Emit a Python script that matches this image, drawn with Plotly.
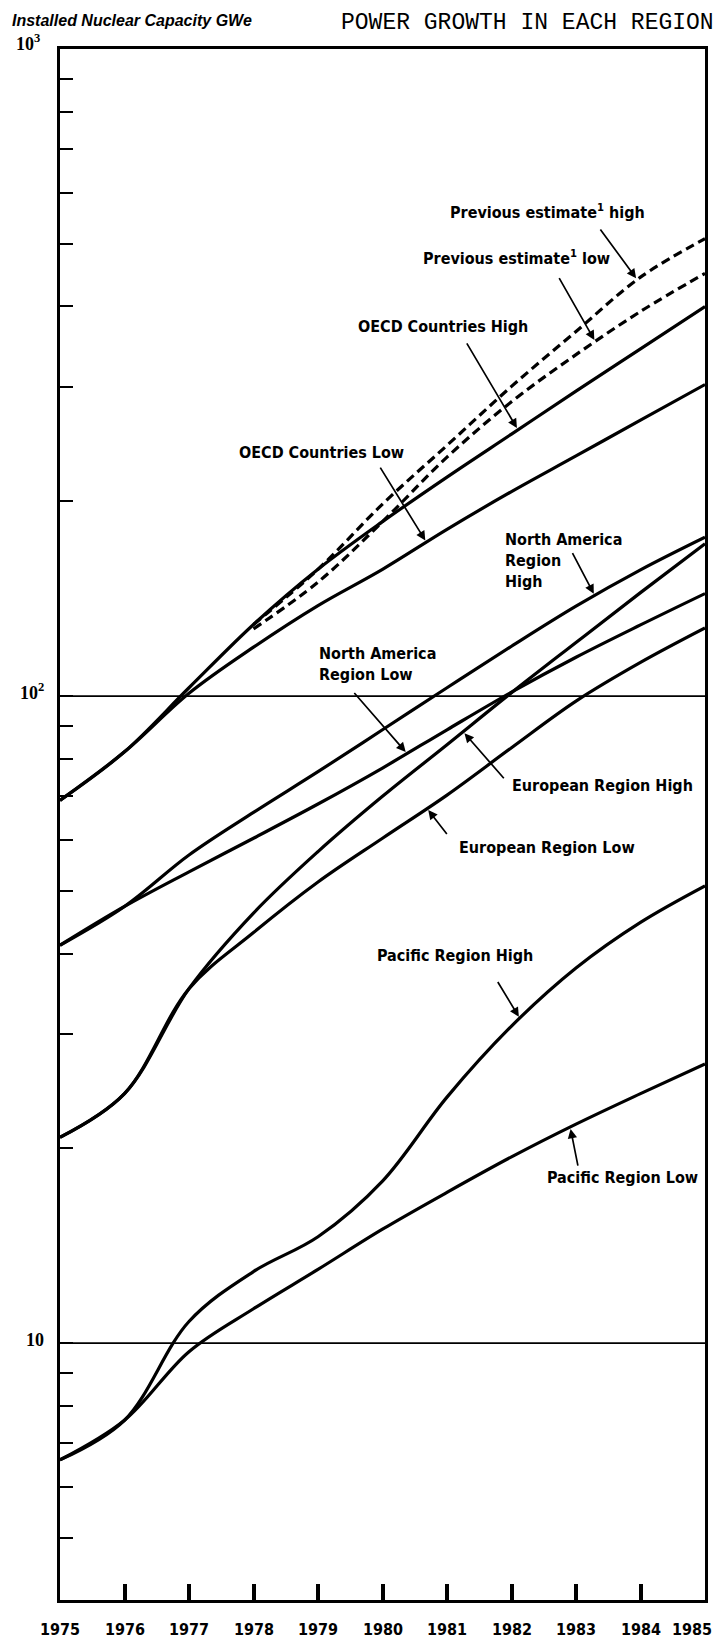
import numpy as np
import plotly.graph_objects as go

# Installed nuclear capacity (GWe), read at each year 1975-1985
years = list(range(1975, 1986))
prev_years = list(range(1978, 1986))
year_labels = [str(y) for y in years]

oecd_high = [69, 82, 103, 129, 157, 186, 218, 254, 296, 344, 400]
oecd_low = [69, 82, 101, 119, 138, 157, 181, 207, 235, 267, 303]
prev_high = [129, 157, 198, 244, 301, 366, 444, 509]
prev_low = [127, 150, 186, 234, 285, 337, 393, 450]
na_high = [41.2, 47.3, 56.8, 66.1, 76.4, 88.7, 103.0, 119.4, 137.7, 156.7, 176]
na_low = [41.2, 47.3, 53.5, 60.3, 68.1, 77.4, 88.7, 101.4, 114.8, 128.8, 144]
eu_high = [20.8, 24.3, 35.3, 46.2, 57.5, 70.0, 84.1, 101.2, 121, 144.5, 172]
eu_low = [20.8, 24.3, 35.3, 43.1, 51.6, 60.3, 70.3, 83.2, 98.2, 112.7, 127.4]
pac_high = [6.6, 7.6, 10.8, 12.9, 14.6, 17.8, 24.0, 30.9, 38.0, 44.7, 50.9]
pac_low = [6.6, 7.6, 9.7, 11.3, 13.0, 15.0, 17.1, 19.4, 21.8, 24.3, 27.0]

guide_values = [10, 100]
minor_ticks = [4, 5, 6, 7, 8, 9, 10, 20, 30, 40, 50, 60, 70, 80, 90,
               100, 200, 300, 400, 500, 600, 700, 800, 900]

W, H = 715, 1649
L, T, PW, PH = 60, 49, 645, 1551

NARROW = "Liberation Sans Narrow, DejaVu Sans Condensed, sans-serif"

fig = go.Figure()

# reference lines at 10 and 100 GWe
for g in guide_values:
    fig.add_trace(go.Scatter(x=[years[0], years[-1]], y=[g, g], mode="lines",
                             line=dict(color="black", width=1.8),
                             hoverinfo="skip", showlegend=False))

series = [
    (years, oecd_high, "solid"), (years, oecd_low, "solid"),
    (prev_years, prev_high, "9px,5px"), (prev_years, prev_low, "9px,5px"),
    (years, na_high, "solid"), (years, na_low, "solid"),
    (years, eu_high, "solid"), (years, eu_low, "solid"),
    (years, pac_high, "solid"), (years, pac_low, "solid"),
]
for xs, ys, dash in series:
    fig.add_trace(go.Scatter(x=xs, y=ys, mode="lines",
                             line=dict(color="black", width=3.2, dash=dash,
                                       shape="spline", smoothing=1.0),
                             hoverinfo="skip", showlegend=False))


def paper(x, y):
    return (x - L) / PW, 1 - (y - T) / PH


def on_curve(xs, ys, yr):
    return float(np.interp(yr, xs, np.log10(ys)))


annotations = []

# curve labels: (text, pixel x, pixel y, anchor)
labels = [
    ("Previous estimate<sup>1</sup> high", 547, 211, "center"),
    ("Previous estimate<sup>1</sup> low", 516, 258, "center"),
    ("OECD Countries High", 443, 327, "center"),
    ("OECD Countries Low", 321, 452, "center"),
    ("North America<br>Region<br>High", 503, 560, "left"),
    ("North America<br>Region Low", 317, 664, "left"),
    ("European Region High", 510, 785, "left"),
    ("European Region Low", 457, 847, "left"),
    ("Pacific Region High", 455, 955, "center"),
    ("Pacific Region Low", 622, 1177, "center"),
]
for text, px, py, anchor in labels:
    xp, yp = paper(px, py)
    annotations.append(dict(text=text, x=xp, y=yp, xref="paper", yref="paper",
                            xanchor=anchor, yanchor="middle", align="left",
                            showarrow=False,
                            font=dict(family=NARROW, size=16, color="black",
                                      weight="bold")))

# pointer arrows: (series x, series y, year of tip, tail offset px)
pointers = [
    (prev_years, prev_high, 1983.95, -38, -52),
    (prev_years, prev_low, 1983.3, -37, -65),
    (years, oecd_high, 1982.1, -52, -88),
    (years, oecd_low, 1980.68, -47, -76),
    (years, na_high, 1983.29, -23, -44),
    (years, na_low, 1980.38, -54, -62),
    (years, eu_high, 1981.25, 42, 48),
    (years, eu_low, 1980.69, 21, 27),
    (years, pac_high, 1982.13, -23, -38),
    (years, pac_low, 1982.91, 8, 40),
]
for xs, ys, yr, ax, ay in pointers:
    annotations.append(dict(text="", x=yr, y=on_curve(xs, ys, yr),
                            xref="x", yref="y", ax=ax, ay=ay,
                            showarrow=True, arrowhead=2, arrowsize=1.1,
                            arrowwidth=1.7, arrowcolor="black", standoff=2))

# decade labels on the value axis
for text, px, py in [("10<sup>3</sup>", 28, 42), ("10<sup>2</sup>", 32, 692),
                     ("10", 35, 1340)]:
    xp, yp = paper(px, py)
    annotations.append(dict(text=text, x=xp, y=yp, xref="paper", yref="paper",
                            xanchor="center", yanchor="middle", showarrow=False,
                            font=dict(family="Liberation Serif, serif", size=18,
                                      color="black", weight="bold")))

# year labels under the time axis; the last one is kept inside the page
_, year_y = paper(0, 1629)
for yr, lab in zip(years, year_labels):
    last = yr == years[-1]
    annotations.append(dict(text=lab, x=yr, y=year_y, xref="x", yref="paper",
                            xanchor="right" if last else "center",
                            xshift=9 if last else 0,
                            yanchor="middle", showarrow=False,
                            font=dict(family=NARROW, size=16, color="black",
                                      weight="bold")))

# headings
xp, yp = paper(10, 20)
annotations.append(dict(text="<b><i>Installed Nuclear Capacity GWe</i></b>",
                        x=xp, y=yp, xref="paper", yref="paper",
                        xanchor="left", yanchor="middle", showarrow=False,
                        font=dict(family="Liberation Sans, sans-serif", size=16,
                                  color="black")))
xp, yp = paper(339, 23)
annotations.append(dict(text="POWER GROWTH IN EACH REGION",
                        x=xp, y=yp, xref="paper", yref="paper",
                        xanchor="left", yanchor="middle", showarrow=False,
                        font=dict(family="Liberation Mono, monospace", size=23,
                                  color="black")))

fig.update_layout(
    width=W, height=H,
    margin=dict(l=L, r=W - L - PW, t=T, b=H - T - PH, autoexpand=False),
    paper_bgcolor="white", plot_bgcolor="white",
    annotations=annotations,
    xaxis=dict(range=[1975, 1985], tickvals=years, showticklabels=False,
               ticks="inside", ticklen=16, tickwidth=4, tickcolor="black",
               showline=True, linewidth=3, linecolor="black", mirror=True,
               showgrid=False, zeroline=False, automargin=False),
    yaxis=dict(type="log", range=[0.603, 3.0], tickvals=minor_ticks,
               ticks="inside", ticklen=13, tickwidth=2, tickcolor="black",
               showticklabels=False, automargin=False,
               showline=True, linewidth=3, linecolor="black", mirror=True,
               showgrid=False, zeroline=False),
)

fig.write_html("out.html")
